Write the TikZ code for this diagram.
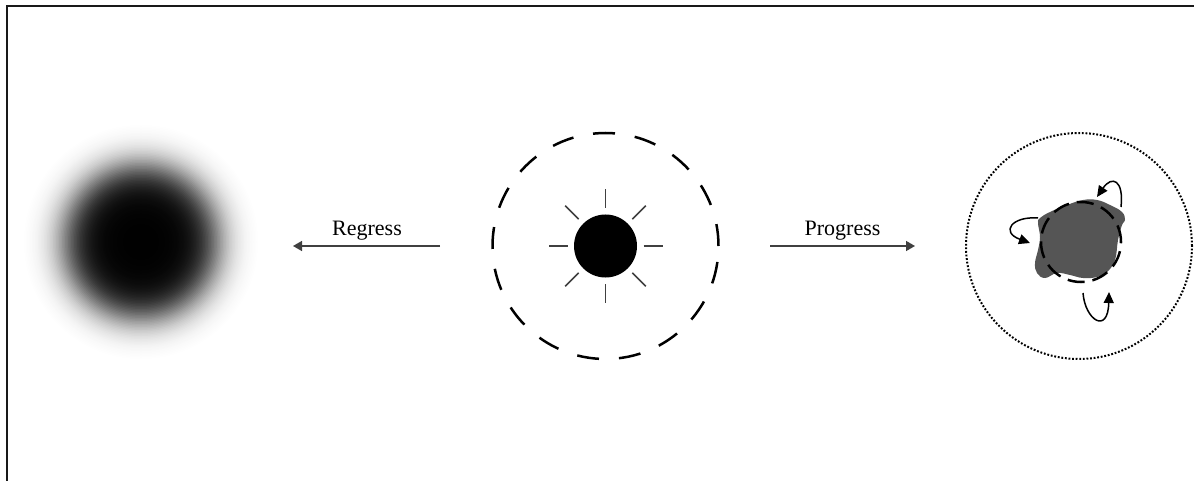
\documentclass[tikz,border=0pt]{standalone}
\usepackage{fontspec}
\setmainfont{Liberation Serif}
\usetikzlibrary{arrows.meta}
\definecolor{blobgray}{RGB}{85,85,85}
\definecolor{linegray}{RGB}{64,64,64}
\tikzset{
  frameline/.style={line width=2pt, draw=black!90},
  flow/.style={line width=1.5pt, draw=linegray, -{Triangle[length=9pt,width=10pt]}},
  lbl/.style={font=\fontsize{22}{26}\selectfont, inner sep=0pt, anchor=base},
  ray/.style={line width=1.5pt, draw=linegray},
  halo/.style={circle, draw, line width=2.5pt, dash pattern=on 22pt off 20pt, minimum size=226pt, inner sep=0pt},
  orbit/.style={circle, draw, line width=2pt, dash pattern=on 1.8pt off 1.8pt, minimum size=226pt, inner sep=0pt},
  ring/.style={circle, draw, line width=2.5pt, dash pattern=on 17pt off 8pt, minimum size=80pt, inner sep=0pt},
  curv/.style={line width=1.5pt, -{Triangle[length=11pt,width=10pt]}},
}
\begin{document}
\begin{tikzpicture}[x=1pt,y=-1pt]
\useasboundingbox (0,0) rectangle (1194,481);
% left: blurred dot
\foreach \r in {118,116.5,...,1.5} {
  \pgfmathtruncatemacro\p{max(0,min(1000,(1000/(1+exp((\r-76)/11))-21.5)*1.022))}
  \pgfmathsetmacro\d{\p/10}
  \fill[black!\d] (141,242) circle (\r);
}
\node[circle, minimum size=220pt, inner sep=0pt] (fog) at (141,242) {};
% frame
\draw[frameline] (1194,6.5) -- (6.5,6.5) -- (6.5,481);
% centre
\node[circle, fill=black, minimum size=63pt, inner sep=0pt] (core) at (605.5,246) {};
\node[halo] (shell) at (605.5,246) {};
\foreach \a in {0,45,...,315}
  \draw[ray] ([shift={(\a:38)}]core.center) -- ([shift={(\a:57)}]core.center);
% arrows
\coordinate (rs) at (440,246);
\coordinate (re) at (293,246);
\coordinate (ps) at (770,246);
\coordinate (pe) at (915,246);
\draw[flow] (rs) -- (re);
\draw[flow] (ps) -- (pe);
\node[lbl] (reglab) at (367,236) {Regress};
\node[lbl] (proglab) at (842.5,236) {Progress};
% right
\node[orbit] (sphere) at (1079,246) {};
\fill[blobgray] plot[smooth cycle, tension=0.7] coordinates {
 (1040,218) (1050,212) (1067,205) (1083,200) (1097,200) (1110,205) (1122,212)
 (1125,220) (1122,225) (1118,240) (1115,260) (1107,272) (1097,277) (1083,278)
 (1070,275) (1057,273) (1045,278) (1037,273) (1035,263) (1038,250) (1040,237) (1038,223)};
\node[ring] (cell) at (1081,242) {};
\coordinate (a1s) at (1121,207);
\coordinate (a1e) at (1097,197);
\coordinate (a2s) at (1038,218);
\coordinate (a2e) at (1030,243);
\coordinate (a3s) at (1083,293);
\coordinate (a3e) at (1109,292);
\draw[curv] (a1s) .. controls (1124,180) and (1112,175) .. (a1e);
\draw[curv] (a2s) .. controls (1012,216) and (1000,232) .. (a2e);
\draw[curv] (a3s) .. controls (1085,320) and (1108,335) .. (a3e);
\end{tikzpicture}
\end{document}
